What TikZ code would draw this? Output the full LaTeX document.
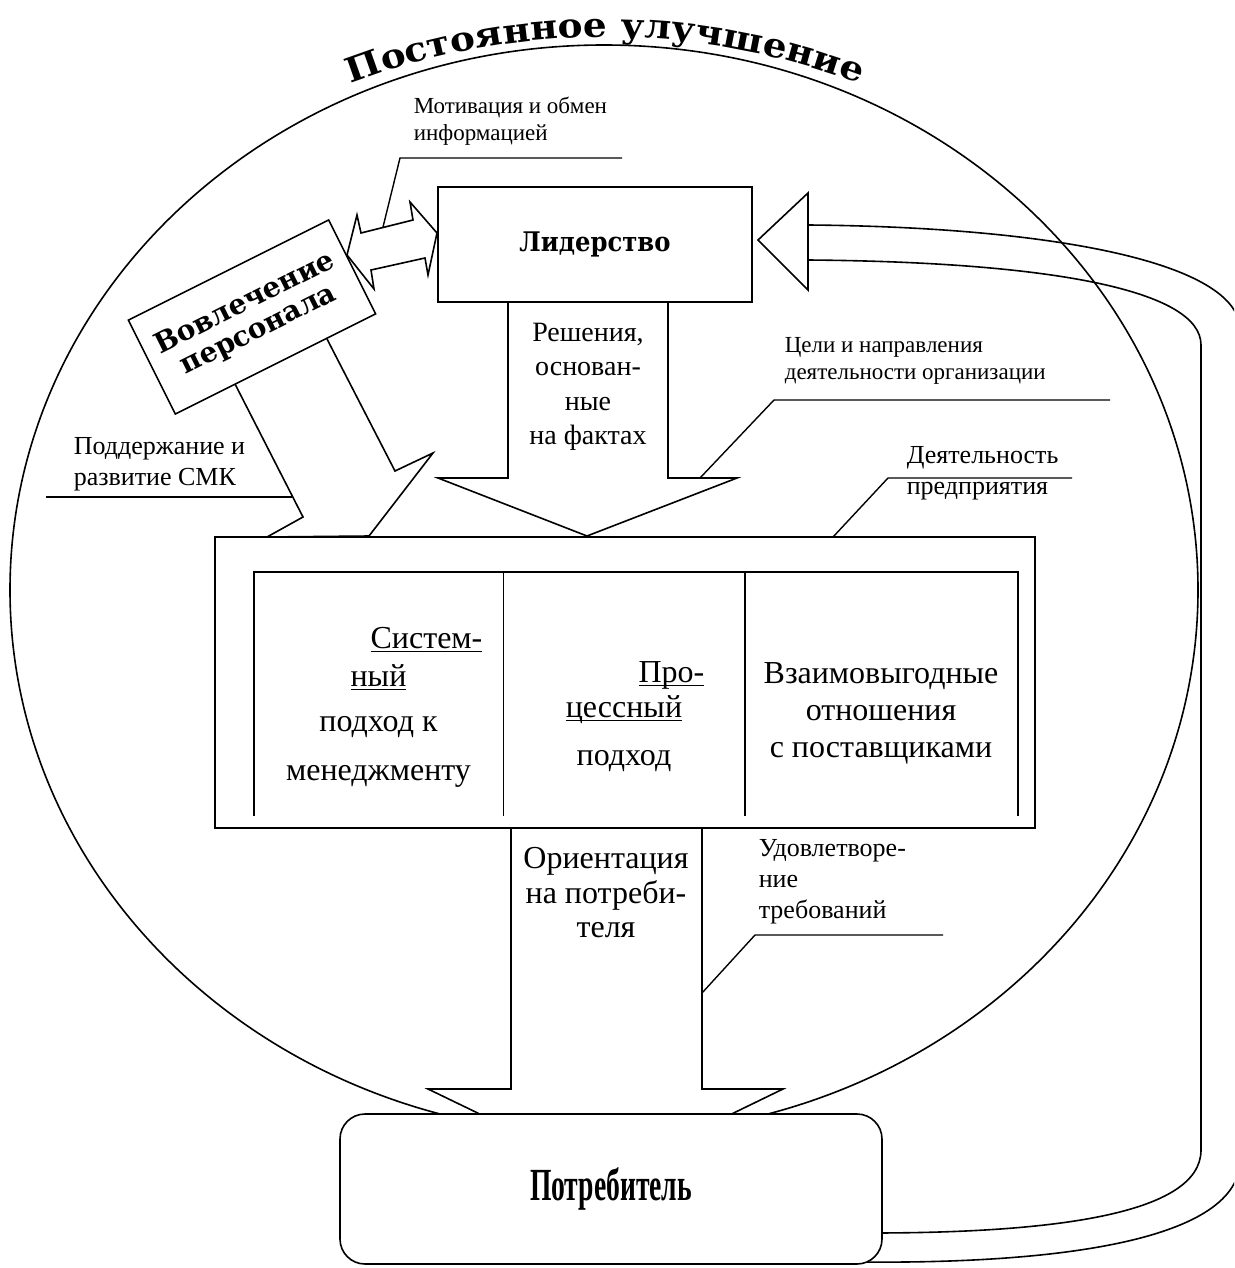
\documentclass[tikz,border=0pt]{standalone}
\usepackage{fontspec}
\setmainfont{Liberation Serif}
\newfontfamily\titlefont[FakeStretch=1.1]{DejaVu Serif}
\newfontfamily\plainserif{DejaVu Serif}
\newfontfamily\leaderfont[FakeStretch=0.9]{DejaVu Serif}
\newfontfamily\narrowserif[FakeStretch=0.6]{Liberation Serif}
\usetikzlibrary{positioning, decorations.text}
\newcommand{\undr}[1]{\leavevmode\setbox0=\hbox{#1}\rlap{\rule[-3.5pt]{\wd0}{1.6pt}}\box0}
\tikzset{
  box/.style={
    rectangle, draw, fill=white, inner sep=0pt
  },
  blockarrow/.style={draw, fill=white},
  callout/.style={line width=1.4pt},
  label/.style={
    inner sep=0pt, anchor=north west, align=left,
    font=\fontsize{26}{31}\selectfont
  },
  smalllabel/.style={
    inner sep=0pt, anchor=north west, align=left,
    font=\fontsize{23}{27}\selectfont
  },
  coltext/.style={inner sep=0pt, anchor=north, align=center}
}
\begin{document}
\begin{tikzpicture}[x=1pt, y=-1pt, line width=1.6pt]
\useasboundingbox (0,0) rectangle (1234,1268);

% Continuous improvement circle
\draw (604,590) ellipse [x radius=594pt, y radius=545pt];
\path[decorate, decoration={text along path, text align=center,
  text={|\titlefont\bfseries\fontsize{34}{34}\selectfont|Постоянное улучшение}}]
  (340,88) .. controls (510,20) and (700,20) .. (870,88);

% Feedback loop
\begin{scope}
  \clip (0,0) rectangle (1234,1268);
  \draw (808,225) .. controls (1050,227) and (1240,262) .. (1240,330)
    -- (1240,1160) .. controls (1240,1240) and (1060,1264) .. (860,1262);
  \draw (808,260) .. controls (1050,262) and (1201,290) .. (1201,345)
    -- (1201,1150) .. controls (1201,1215) and (1050,1233) .. (870,1233);
\end{scope}

% Block arrows
\draw[blockarrow] (508,302) -- (508,478) -- (438,478) -- (587,536)
  -- (737,478) -- (668,478) -- (668,302);
\draw[blockarrow] (235,384) -- (303,517) -- (267,537) -- (369,536)
  -- (433,453) -- (395,471) -- (327,339);
\draw[blockarrow] (511,828) -- (511,1089) -- (428,1089) -- (606,1175)
  -- (783,1089) -- (702,1089) -- (702,828);

% Boxes
\node[box, minimum width=314pt, minimum height=115pt,
      font=\leaderfont\bfseries\fontsize{27}{27}\selectfont]
  (leader) at (595,244.5) {Лидерство};
\node[box, rotate=26.57, minimum width=224pt, minimum height=105pt,
      align=center, font=\plainserif\bfseries\fontsize{28}{30}\selectfont]
  (involve) at (252,317) {Вовлечение\\персонала};
\node[box, minimum width=820pt, minimum height=291pt]
  (activity) at (625,682.5) {};
\node[box, rounded corners=25pt, minimum width=542pt, minimum height=150pt,
      font=\narrowserif\bfseries\fontsize{46}{46}\selectfont]
  (consumer) at (611,1189) {Потребитель};

% Arrow heads
\draw[blockarrow] (808,193) -- (758,240) -- (808,290) -- cycle;
\draw[blockarrow] (347,255) -- (357,215) -- (361,233) -- (413,220)
  -- (410,202) -- (437,233) -- (428,275) -- (425,258) -- (371,270)
  -- (374,289) -- cycle;

% Principles inside the activity box
\draw (254,816) -- (254,572) -- (1018,572) -- (1018,816);
\foreach \x in {503.5, 745}
  \draw (\x,572) -- (\x,816);
\node[coltext, font=\fontsize{32}{38}\selectfont] (system) at (378.5,627)
  {\hspace*{96pt}\undr{Систем-}\\\undr{ный}\\[7pt]подход к\\[11pt]менеджменту};
\node[coltext, font=\fontsize{32}{35}\selectfont] (process) at (624,661)
  {\hspace*{95pt}\undr{Про-}\\\undr{цессный}\\[13pt]подход};
\node[coltext, font=\fontsize{32}{37}\selectfont] (suppliers) at (881,662)
  {Взаимовыгодные\\отношения\\с поставщиками};

% Texts in arrows
\node[coltext, font=\fontsize{28}{34.5}\selectfont] (facts) at (588,322)
  {Решения,\\основан-\\ные\\на фактах};
\node[coltext, font=\fontsize{32}{34.5}\selectfont] (orient) at (606,847)
  {Ориентация\\на потреби-\\теля};

% Callouts
\node[smalllabel] (motiv) at (413,96) {Мотивация и обмен\\информацией};
\draw[callout] (622,158) -- (400,158) -- (383,227);
\node[smalllabel] (goals) at (784,337)
  {Цели и направления\\деятельности организации};
\draw[callout] (1110,400) -- (774,400) -- (700,478);
\node[label] (firm) at (906,446) {Деятельность\\предприятия};
\draw[callout] (1072,478) -- (888,478) -- (833,537);
\node[label] (support) at (73,437) {Поддержание и\\развитие СМК};
\draw[callout] (46,497) -- (292,497);
\node[label] (satisfy) at (758,839) {Удовлетворе-\\ние\\требований};
\draw[callout] (943,935) -- (755,935) -- (702,993);

\end{tikzpicture}
\end{document}
